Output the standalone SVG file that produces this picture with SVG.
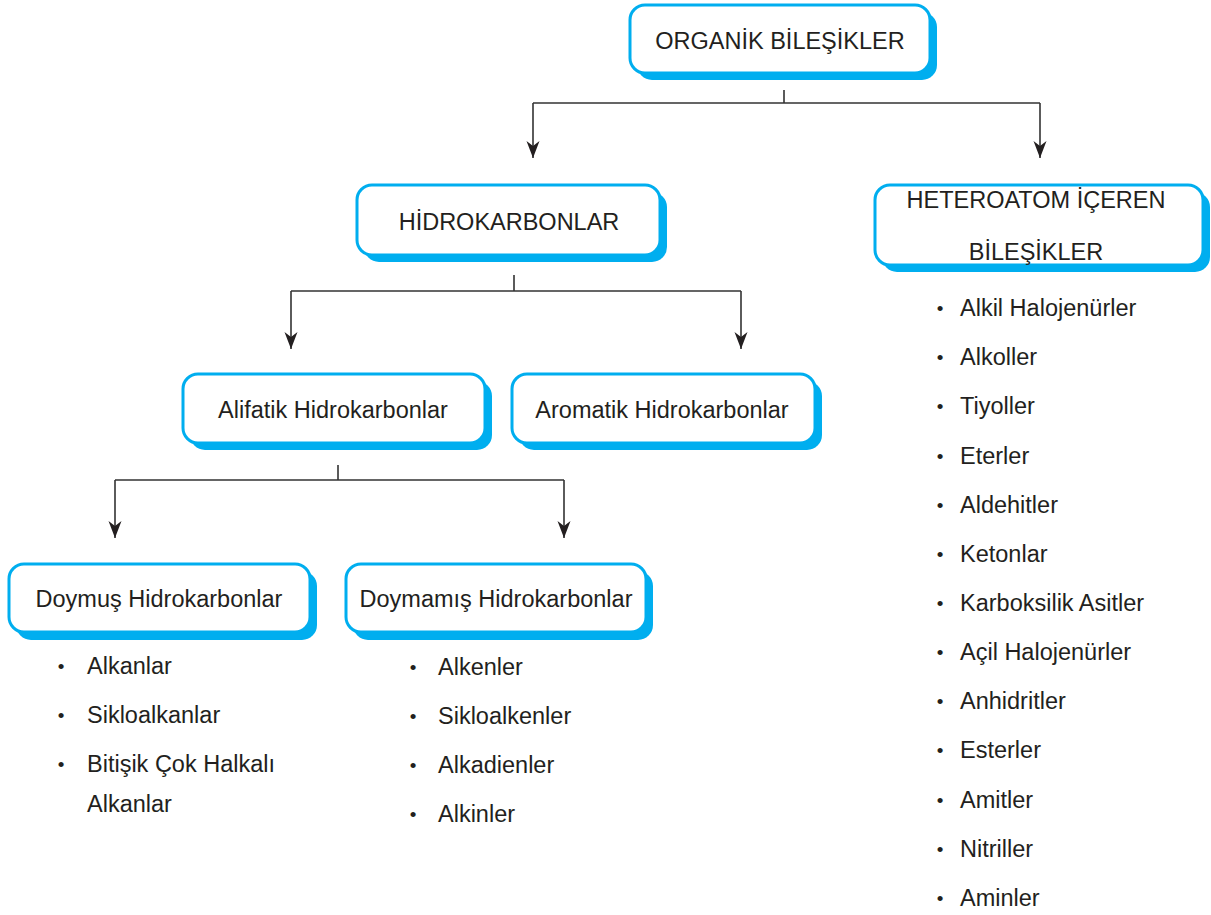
<svg xmlns="http://www.w3.org/2000/svg" width="1211" height="915" viewBox="0 0 1211 915">
<style>
.sh{fill:#00aeef;}
.bx{fill:#fff;stroke:#00aeef;stroke-width:3;}
.t{font-family:"Liberation Sans",Arial,sans-serif;font-size:23.5px;fill:#231f20;}
.c{text-anchor:middle;}
.b{font-family:"Liberation Sans",Arial,sans-serif;font-size:19px;fill:#231f20;text-anchor:middle;}
.ln{fill:none;stroke:#333;stroke-width:1.6;}
</style>
<defs>
<marker id="ah" viewBox="0 -7 17 14" refX="17" refY="0" markerWidth="17" markerHeight="14" markerUnits="userSpaceOnUse" orient="auto">
<path d="M0,-6.5 L17,0 L0,6.5 L5,0 z" fill="#231f20"/>
</marker>
</defs>
<g id="connectors">
<path class="ln" d="M784,90 V103 M533,103 H1040" />
<path class="ln" d="M533,103 V158" marker-end="url(#ah)"/>
<path class="ln" d="M1040,103 V158" marker-end="url(#ah)"/>
<path class="ln" d="M514,275 V291 M291,291 H741" />
<path class="ln" d="M291,291 V349" marker-end="url(#ah)"/>
<path class="ln" d="M741,291 V349" marker-end="url(#ah)"/>
<path class="ln" d="M338,465 V480 M115,480 H564" />
<path class="ln" d="M115,480 V538" marker-end="url(#ah)"/>
<path class="ln" d="M564,480 V538" marker-end="url(#ah)"/>
</g>
<g id="organik">
<rect class="sh" x="637" y="12" width="300" height="68" rx="15"/>
<rect class="bx" x="630" y="5" width="300" height="68" rx="15"/>
<text class="t c" x="780" y="49">ORGANİK BİLEŞİKLER</text>
</g>
<g id="hidrokarbonlar">
<rect class="sh" x="364" y="192" width="303" height="70" rx="15"/>
<rect class="bx" x="357" y="185" width="303" height="70" rx="15"/>
<text class="t c" x="509" y="230">HİDROKARBONLAR</text>
</g>
<g id="heteroatom">
<rect class="sh" x="882" y="192" width="328" height="80" rx="15"/>
<rect class="bx" x="875" y="185" width="328" height="80" rx="15"/>
<text class="t c" x="1036" y="208">HETEROATOM İÇEREN</text>
<text class="t c" x="1036" y="260">BİLEŞİKLER</text>
</g>
<g id="alifatik">
<rect class="sh" x="190" y="381" width="302" height="69" rx="15"/>
<rect class="bx" x="183" y="374" width="302" height="69" rx="15"/>
<text class="t c" x="333" y="418">Alifatik Hidrokarbonlar</text>
</g>
<g id="aromatik">
<rect class="sh" x="519" y="381" width="303" height="69" rx="15"/>
<rect class="bx" x="512" y="374" width="303" height="69" rx="15"/>
<text class="t c" x="662" y="418">Aromatik Hidrokarbonlar</text>
</g>
<g id="doymus">
<rect class="sh" x="16" y="571" width="301" height="69" rx="15"/>
<rect class="bx" x="9" y="564" width="301" height="68" rx="15"/>
<text class="t c" x="159" y="607">Doymuş Hidrokarbonlar</text>
</g>
<g id="doymamis">
<rect class="sh" x="353" y="571" width="300" height="69" rx="15"/>
<rect class="bx" x="346" y="564" width="300" height="68" rx="15"/>
<text class="t c" x="496" y="607">Doymamış Hidrokarbonlar</text>
</g>
<g id="doymus-list">
<text class="b" x="61" y="673">•</text><text class="t" x="87" y="674">Alkanlar</text>
<text class="b" x="61" y="722">•</text><text class="t" x="87" y="723">Sikloalkanlar</text>
<text class="b" x="61" y="771">•</text><text class="t" x="87" y="772">Bitişik Çok Halkalı</text>
<text class="t" x="87" y="812">Alkanlar</text>
</g>
<g id="doymamis-list">
<text class="b" x="413" y="674">•</text><text class="t" x="438" y="675">Alkenler</text>
<text class="b" x="413" y="723">•</text><text class="t" x="438" y="724">Sikloalkenler</text>
<text class="b" x="413" y="772">•</text><text class="t" x="438" y="773">Alkadienler</text>
<text class="b" x="413" y="821">•</text><text class="t" x="438" y="822">Alkinler</text>
</g>
<g id="heteroatom-list">
<text class="b" x="940" y="315">•</text><text class="t" x="960" y="316">Alkil Halojenürler</text>
<text class="b" x="940" y="364">•</text><text class="t" x="960" y="365">Alkoller</text>
<text class="b" x="940" y="413">•</text><text class="t" x="960" y="414">Tiyoller</text>
<text class="b" x="940" y="463">•</text><text class="t" x="960" y="464">Eterler</text>
<text class="b" x="940" y="512">•</text><text class="t" x="960" y="513">Aldehitler</text>
<text class="b" x="940" y="561">•</text><text class="t" x="960" y="562">Ketonlar</text>
<text class="b" x="940" y="610">•</text><text class="t" x="960" y="611">Karboksilik Asitler</text>
<text class="b" x="940" y="659">•</text><text class="t" x="960" y="660">Açil Halojenürler</text>
<text class="b" x="940" y="708">•</text><text class="t" x="960" y="709">Anhidritler</text>
<text class="b" x="940" y="757">•</text><text class="t" x="960" y="758">Esterler</text>
<text class="b" x="940" y="807">•</text><text class="t" x="960" y="808">Amitler</text>
<text class="b" x="940" y="856">•</text><text class="t" x="960" y="857">Nitriller</text>
<text class="b" x="940" y="905">•</text><text class="t" x="960" y="906">Aminler</text>
</g>
</svg>
